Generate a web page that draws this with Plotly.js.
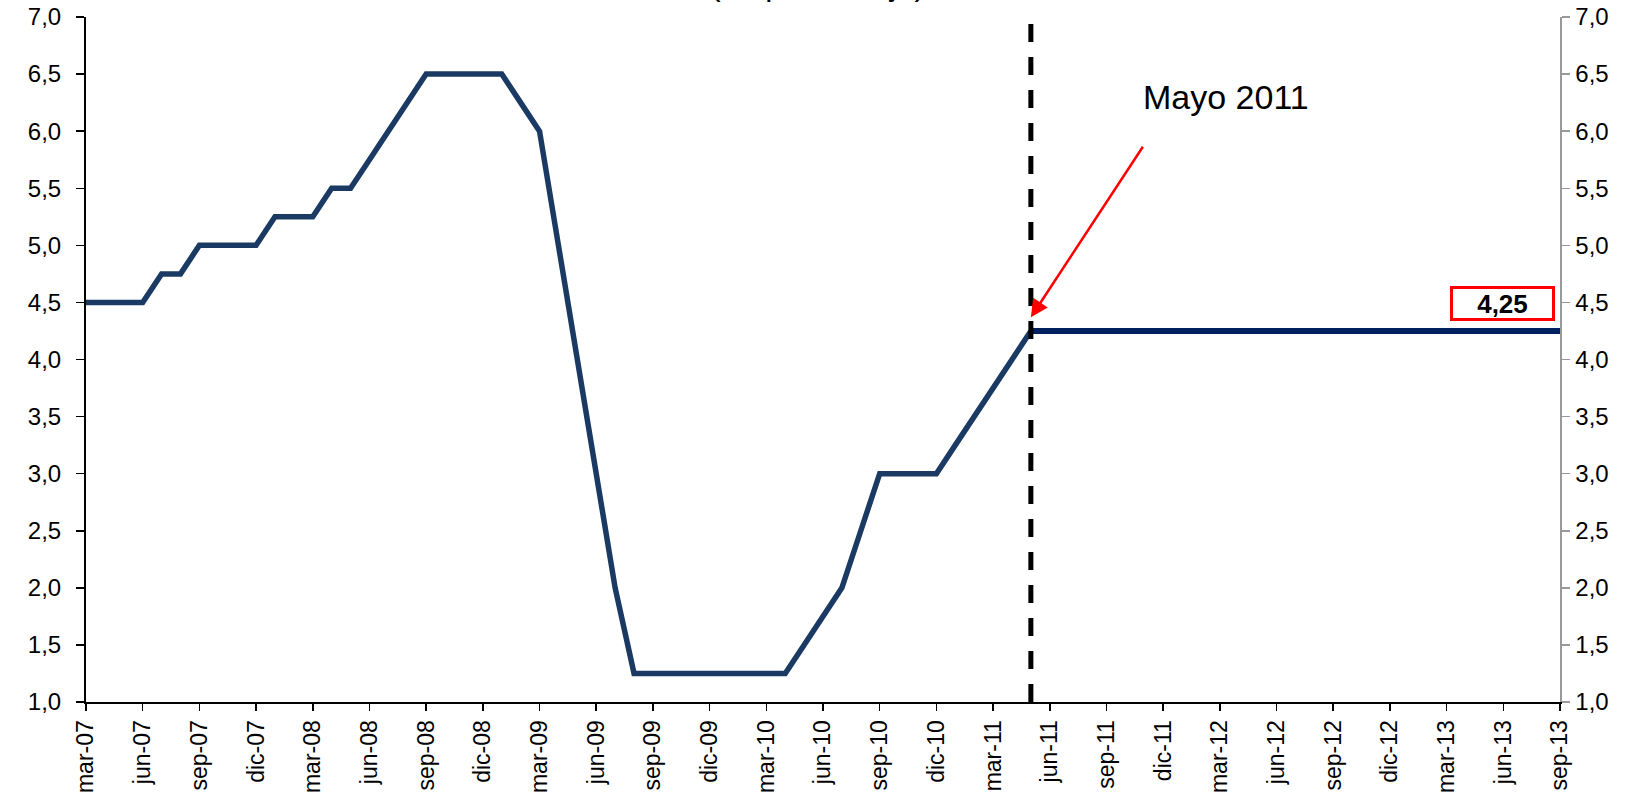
<!DOCTYPE html>
<html>
<head>
<meta charset="utf-8">
<script src="https://cdn.plot.ly/plotly-3.0.1.min.js"></script>
<style>
  html, body { margin: 0; padding: 0; background: #ffffff; }
  #chart { width: 1638px; height: 793px; }
</style>
</head>
<body>
<div id="chart"></div>
<script>
// Monthly periods, mar-07 through sep-13
const meses = [
  'mar-07','abr-07','may-07','jun-07','jul-07','ago-07','sep-07','oct-07','nov-07','dic-07',
  'ene-08','feb-08','mar-08','abr-08','may-08','jun-08','jul-08','ago-08','sep-08','oct-08','nov-08','dic-08',
  'ene-09','feb-09','mar-09','abr-09','may-09','jun-09','jul-09','ago-09','sep-09','oct-09','nov-09','dic-09',
  'ene-10','feb-10','mar-10','abr-10','may-10','jun-10','jul-10','ago-10','sep-10','oct-10','nov-10','dic-10',
  'ene-11','feb-11','mar-11','abr-11','may-11','jun-11','jul-11','ago-11','sep-11','oct-11','nov-11','dic-11',
  'ene-12','feb-12','mar-12','abr-12','may-12','jun-12','jul-12','ago-12','sep-12','oct-12','nov-12','dic-12',
  'ene-13','feb-13','mar-13','abr-13','may-13','jun-13','jul-13','ago-13','sep-13'
];

// Reference rate (%) up to and including may-11
const tasaHistorica = [
  4.50, 4.50, 4.50, 4.50, 4.75, 4.75, 5.00, 5.00, 5.00, 5.00,
  5.25, 5.25, 5.25, 5.50, 5.50, 5.75, 6.00, 6.25, 6.50, 6.50, 6.50, 6.50,
  6.50, 6.25, 6.00, 5.00, 4.00, 3.00, 2.00, 1.25, 1.25, 1.25, 1.25, 1.25,
  1.25, 1.25, 1.25, 1.25, 1.50, 1.75, 2.00, 2.50, 3.00, 3.00, 3.00, 3.00,
  3.25, 3.50, 3.75, 4.00, 4.25
];

// Rate held from may-11 to sep-13
const tasaMantenida = [
  4.25, 4.25, 4.25, 4.25, 4.25, 4.25, 4.25, 4.25,
  4.25, 4.25, 4.25, 4.25, 4.25, 4.25, 4.25, 4.25, 4.25, 4.25, 4.25, 4.25,
  4.25, 4.25, 4.25, 4.25, 4.25, 4.25, 4.25, 4.25, 4.25
];

// Axis tick labels every three months
const etiquetasX = [
  'mar-07','jun-07','sep-07','dic-07','mar-08','jun-08','sep-08','dic-08',
  'mar-09','jun-09','sep-09','dic-09','mar-10','jun-10','sep-10','dic-10',
  'mar-11','jun-11','sep-11','dic-11','mar-12','jun-12','sep-12','dic-12',
  'mar-13','jun-13','sep-13'
];

const mesMarcado = 'may-11';
const textoMarcado = 'Mayo 2011';
const ultimoValor = tasaMantenida[tasaMantenida.length - 1];

const idx = meses.map((_, i) => i);
const iMarcado = meses.indexOf(mesMarcado);
const xHist = idx.slice(0, tasaHistorica.length);
const xMant = idx.slice(iMarcado, iMarcado + tasaMantenida.length);
const tickPos = etiquetasX.map(m => meses.indexOf(m));

const fontFam = 'Liberation Sans, Arial, sans-serif';

const traces = [
  {
    x: xHist, y: tasaHistorica, type: 'scatter', mode: 'lines',
    line: { color: '#1b3a63', width: 5.5 },
    hoverinfo: 'skip', showlegend: false
  },
  {
    x: xMant, y: tasaMantenida, type: 'scatter', mode: 'lines',
    yaxis: 'y2',
    line: { color: '#002060', width: 6 },
    hoverinfo: 'skip', showlegend: false
  }
];

const ejeY = {
  range: [1, 7], dtick: 0.5, tick0: 1, tickformat: '.1f',
  showgrid: false, zeroline: false,
  ticks: 'outside', ticklen: 8, tickwidth: 1.5,
  tickfont: { family: fontFam, size: 24, color: '#000' },
  fixedrange: true
};

const layout = {
  width: 1638, height: 793,
  margin: { l: 86, r: 78, t: 17, b: 91 },
  paper_bgcolor: '#ffffff', plot_bgcolor: '#ffffff',
  separators: ',.',
  font: { family: fontFam, color: '#000' },
  xaxis: {
    range: [0, meses.length - 1],
    tickmode: 'array', tickvals: tickPos, ticktext: etiquetasX,
    tickangle: -90,
    tickfont: { family: fontFam, size: 23, color: '#000' },
    ticks: 'outside', ticklen: 7, tickwidth: 1.5, tickcolor: '#000',
    showline: true, linecolor: '#000', linewidth: 2,
    showgrid: false, zeroline: false, fixedrange: true
  },
  yaxis: Object.assign({}, ejeY, {
    showline: true, linecolor: '#000', linewidth: 2, tickcolor: '#000',
    ticklabelstandoff: 10
  }),
  yaxis2: Object.assign({}, ejeY, {
    overlaying: 'y', side: 'right', anchor: 'x',
    showline: true, linecolor: '#999', linewidth: 1.5, tickcolor: '#999',
    ticklabelstandoff: 1
  }),
  shapes: [
    {
      type: 'line', xref: 'x', yref: 'paper',
      x0: iMarcado, x1: iMarcado, y0: 0, y1: 1,
      line: { color: '#000', width: 5, dash: '18px,15px' },
      layer: 'above'
    }
  ],
  annotations: [
    {
      text: '(en porcentaje)', xref: 'paper', yref: 'paper',
      x: 0.4966, y: 1, xanchor: 'center', yanchor: 'bottom', yshift: 13,
      showarrow: false, font: { family: fontFam, size: 32, color: '#000' }
    },
    {
      text: textoMarcado, xref: 'x', yref: 'y',
      x: 60.35, y: 6.3, xanchor: 'center', yanchor: 'middle',
      showarrow: false, font: { family: fontFam, size: 34, color: '#000' }
    },
    {
      text: '', xref: 'x', yref: 'y',
      x: iMarcado, y: 4.37,
      showarrow: true, arrowhead: 2, arrowsize: 1.4, arrowwidth: 2.5,
      arrowcolor: '#ff0000', ax: 113, ay: -172, standoff: 0
    },
    {
      text: '<b>' + ultimoValor.toFixed(2).replace('.', ',') + '</b>',
      xref: 'x', yref: 'y', x: 74.95, y: 4.49,
      xanchor: 'center', yanchor: 'middle', showarrow: false,
      width: 99, height: 29, align: 'center',
      bordercolor: '#ff0000', borderwidth: 3, borderpad: 0, bgcolor: '#ffffff',
      font: { family: fontFam, size: 26, color: '#000' }
    }
  ]
};

Plotly.newPlot('chart', traces, layout, { displayModeBar: false, staticPlot: true });
</script>
</body>
</html>
